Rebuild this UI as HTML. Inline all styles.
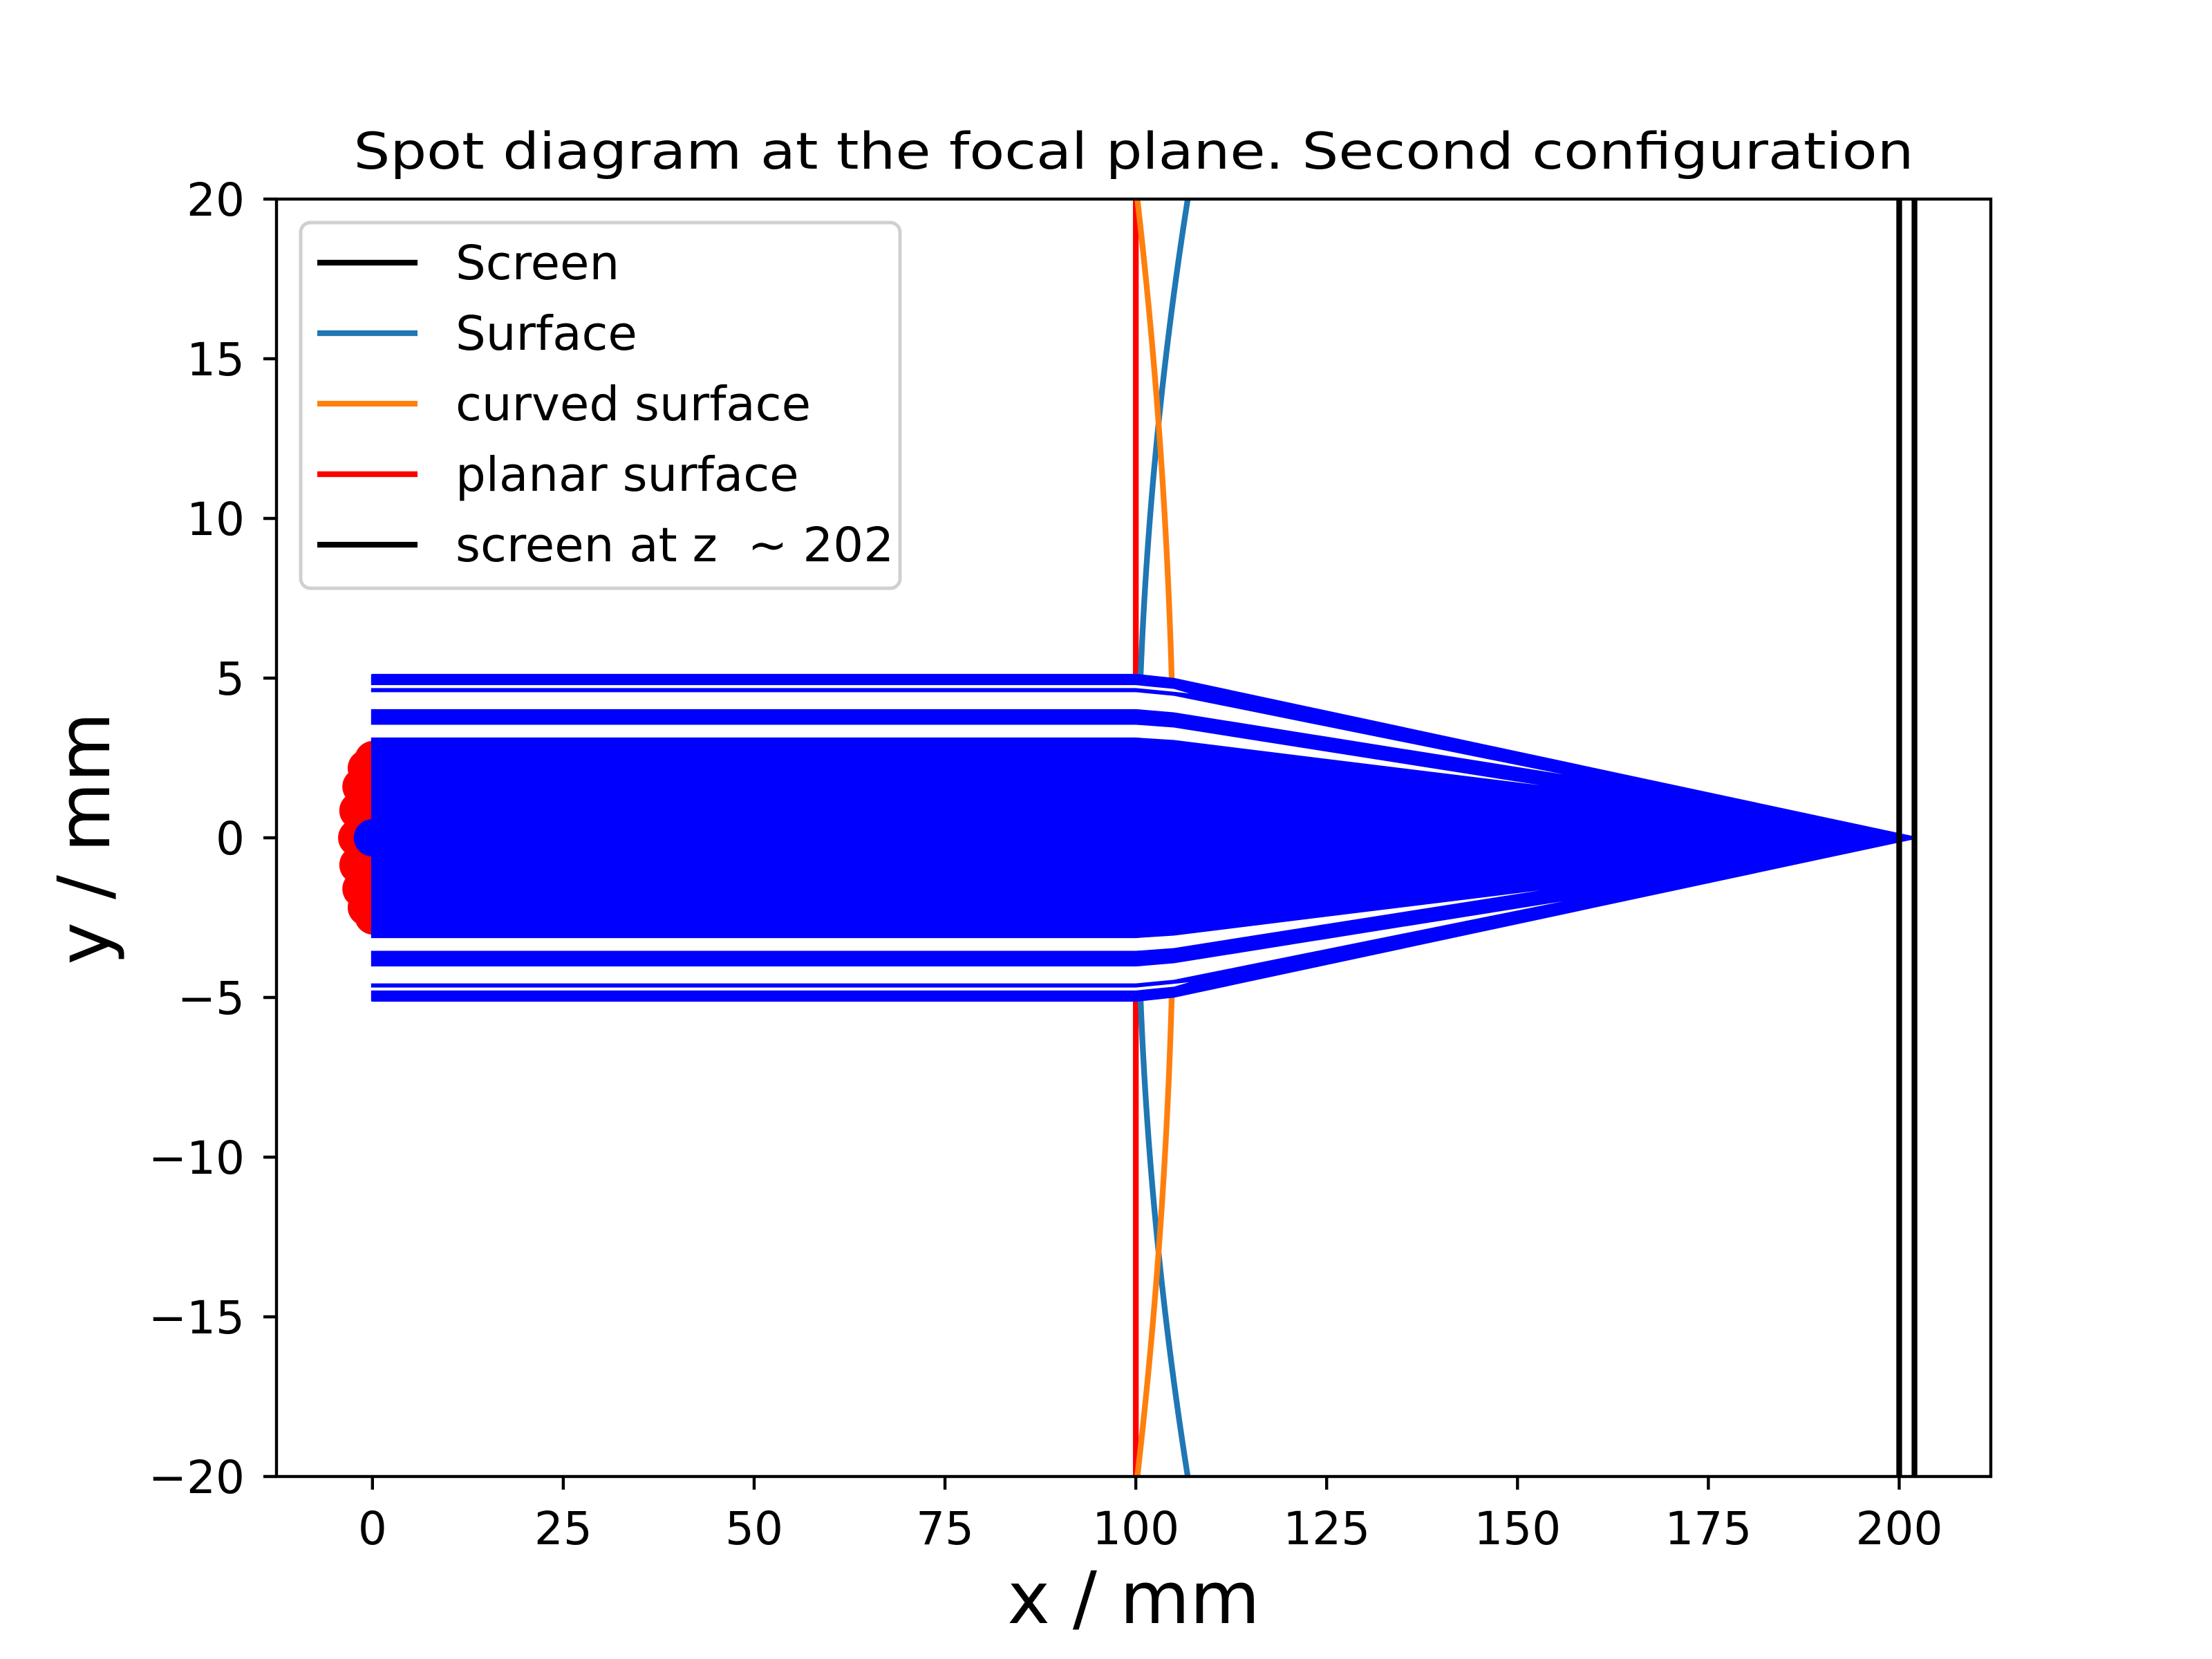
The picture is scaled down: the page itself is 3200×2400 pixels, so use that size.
<!DOCTYPE html>
<html><head><meta charset="utf-8"><style>
html,body{margin:0;padding:0;background:#fff}
svg{display:block}
text{font-family:"DejaVu Sans","Liberation Sans",sans-serif;fill:#000;white-space:pre}
</style></head><body>
<svg id="chart" width="3200" height="2400" viewBox="0 0 3200 2400" xmlns="http://www.w3.org/2000/svg">
<rect x="0" y="0" width="3200" height="2400" fill="#fff"/>
<defs><clipPath id="clip"><rect x="400" y="288" width="2480" height="1848"/></clipPath></defs>
<g id="plot" clip-path="url(#clip)"></g>
<g id="axes"></g>
<text x="1640" y="244" font-size="73" text-anchor="middle" textLength="2257" lengthAdjust="spacingAndGlyphs">Spot diagram at the focal plane. Second configuration</text>
<text x="1640" y="2348" font-size="104" text-anchor="middle">x / mm</text>
<text x="0" y="0" font-size="104" text-anchor="middle" transform="translate(158,1213) rotate(-90)">y / mm</text>
<g id="legend"></g>
</svg>
<script>
const xTicks=[0,25,50,75,100,125,150,175,200];
const yTicks=[20,15,10,5,0,-5,-10,-15,-20];
const yTickLabels=["20","15","10","5","0","\u22125","\u221210","\u221215","\u221220"];
const bandTops=[5.09,4.69,4.03,3.14];
const bandBottoms=[4.78,4.56,3.54,-3.14];
const gapCloseX=[107,156,153];
const screenXs=[200,202];
const planeX=[100];
const dotYs=[-2.45,-2.18,-1.6,-0.85,0,0.85,1.6,2.18,2.45];
const dotXs=[0.1,-0.8,-1.5,-1.9,-2.06,-1.9,-1.5,-0.8,0.1];
const legendLabels=["Screen","Surface","curved surface","planar surface","screen at z  \u223c 202"];
const legendColors=["#000","#1f77b4","#ff7f0e","#ff0000","#000"];
const focusX=202, lensX1=100, lensX2=105;

const X0=400,X1=2880,Y0=288,Y1=2136;
const xmin=-12.57,xmax=212.0,ymin=-20,ymax=20;
const sx=v=>X0+(v-xmin)/(xmax-xmin)*(X1-X0);
const sy=v=>Y1-(v-ymin)/(ymax-ymin)*(Y1-Y0);
const NS="http://www.w3.org/2000/svg";
function mk(tag,attrs,parent){const e=document.createElementNS(NS,tag);for(const k in attrs)e.setAttribute(k,attrs[k]);parent.appendChild(e);return e;}
const plot=document.getElementById('plot'),axes=document.getElementById('axes'),legend=document.getElementById('legend');

let e;
e=mk('line',{x1:sx(planeX[0]),x2:sx(planeX[0]),y1:sy(-20),y2:sy(20),stroke:'#ff0000','stroke-width':8.3},plot);


let pb=[],po=[];
for(let i=0;i<=80;i++){const y=-20+i*0.5;pb.push(sx(100.2+6.6*(y/20)**2)+','+sy(y));po.push(sx(105-4.8*(y/20)**2)+','+sy(y));}
e=mk('polyline',{points:pb.join(' '),fill:'none',stroke:'#1f77b4','stroke-width':8.3},plot);


e=mk('polyline',{points:po.join(' '),fill:'none',stroke:'#ff7f0e','stroke-width':8.3},plot);



dotYs.forEach((y,i)=>{const c=mk('circle',{cx:sx(dotXs[i]),cy:sy(y),r:27,fill:'#ff0000'},plot);

});

const P=(x,y)=>sx(x)+','+sy(y);
const T=bandTops[0];
e=mk('polygon',{points:[P(0,T),P(lensX1,T),P(lensX2,T*0.975),P(focusX,0),P(lensX2,-T*0.975),P(lensX1,-T),P(0,-T)].join(' '),fill:'#0000ff',stroke:'#0000ff','stroke-width':4,'stroke-linejoin':'round'},plot);


for(let i=0;i<bandTops.length-1;i++){
 const b=bandBottoms[i], t=bandTops[i+1], m=(b+t)/2, xc=gapCloseX[i];
 const yc=m*0.975*(focusX-xc)/(focusX-lensX2);
 [1,-1].forEach(s=>{
  const g=mk('polygon',{points:[P(-1,s*b),P(lensX1,s*b),P(lensX2,s*b*0.975),P(xc,s*yc),P(lensX2,s*t*0.975),P(lensX1,s*t),P(-1,s*t)].join(' '),fill:'#fff',stroke:'none'},plot);
  
  
 });
}
e=mk('circle',{cx:sx(0),cy:sy(0),r:27,fill:'#0000ff'},plot);



screenXs.forEach(x=>{const l=mk('line',{x1:sx(x),x2:sx(x),y1:sy(-20),y2:sy(20),stroke:'#000','stroke-width':8.3},plot);

});

e=mk('rect',{x:X0,y:Y0,width:X1-X0,height:Y1-Y0,fill:'none',stroke:'#000','stroke-width':4.4},axes);


xTicks.forEach(v=>{
 const t=mk('line',{x1:sx(v),x2:sx(v),y1:Y1,y2:Y1+19,stroke:'#000','stroke-width':4.4},axes);
 
 
 const l=mk('text',{x:sx(v),y:Y1+98,'font-size':66,'text-anchor':'middle'},axes);
 l.textContent=String(v);
 
 
});
yTicks.forEach((v,i)=>{
 const t=mk('line',{x1:X0-19,x2:X0,y1:sy(v),y2:sy(v),stroke:'#000','stroke-width':4.4},axes);
 
 
 const l=mk('text',{x:X0-46,y:sy(v)+24,'font-size':66,'text-anchor':'end'},axes);
 l.textContent=yTickLabels[i];
 
 
});

e=mk('rect',{x:435,y:322,width:867,height:529,rx:14,fill:'#fff','fill-opacity':0.8,stroke:'#d0d0d0','stroke-width':5},legend);


legendLabels.forEach((s,i)=>{
 const y=380+i*102;
 const g=mk('g',{},legend);
 
 
 mk('line',{x1:459,x2:604,y1:y,y2:y,stroke:legendColors[i],'stroke-width':8.3},g);
 const t=mk('text',{x:659,y:y+24,'font-size':69},g);
 t.textContent=s;
});
</script>
</body></html>
